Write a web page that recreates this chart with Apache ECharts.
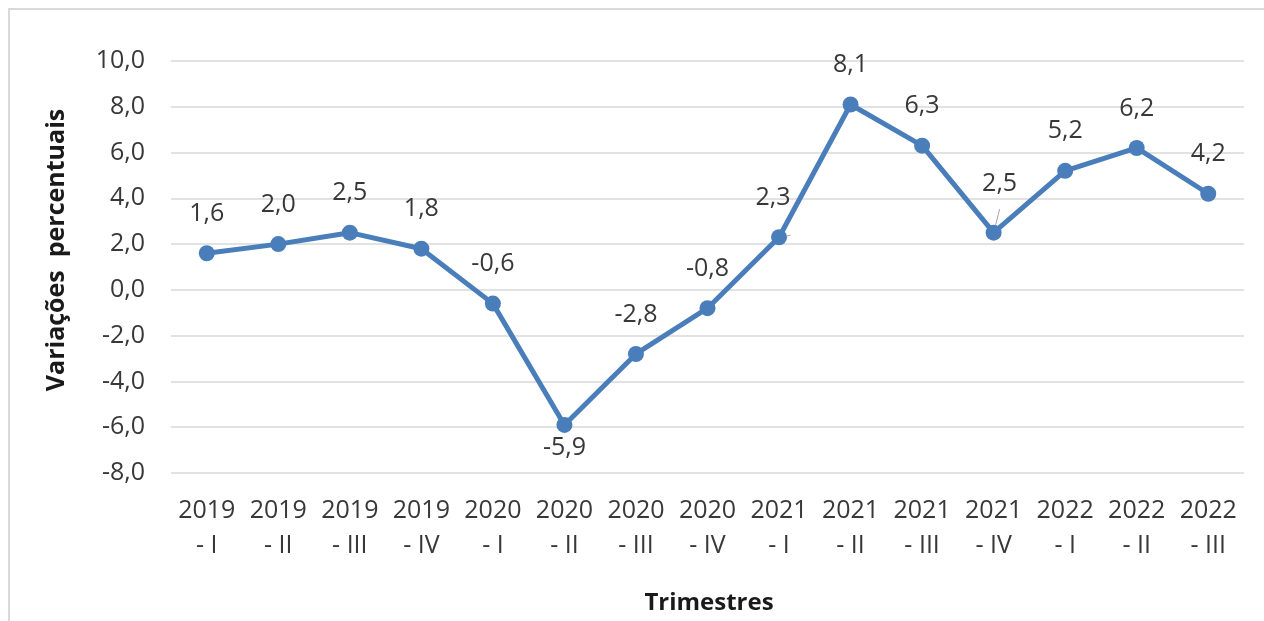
<!DOCTYPE html>
<html>
<head>
<meta charset="utf-8">
<script src="https://cdn.jsdelivr.net/npm/echarts@6/dist/echarts.min.js"></script>
<style>
  html, body { margin: 0; padding: 0; background: #fff; }
  #frame { position: absolute; left: 8px; top: 8px; width: 1300px; height: 700px;
           border-top: 2px solid #d9d9d9; border-left: 2px solid #d9d9d9; }
  #main { position: absolute; left: 0; top: 0; width: 1264px; height: 621px; }
</style>
</head>
<body>
<div id="frame"></div>
<div id="main"></div>
<script>
var categories = ['2019\n- I', '2019\n- II', '2019\n- III', '2019\n- IV',
    '2020\n- I', '2020\n- II', '2020\n- III', '2020\n- IV',
    '2021\n- I', '2021\n- II', '2021\n- III', '2021\n- IV',
    '2022\n- I', '2022\n- II', '2022\n- III'];
var values = [1.6, 2.0, 2.5, 1.8, -0.6, -5.9, -2.8, -0.8, 2.3, 8.1, 6.3, 2.5, 5.2, 6.2, 4.2];
var yTicks = { min: -8, max: 10, interval: 2 };

var FONT = '"Open Sans", sans-serif';
var TEXT = '#383838';

function fmt(v) {
    return v.toFixed(1).replace('.', ',');
}

var seriesData = [];
for (var i = 0; i < values.length; i++) {
    var item = { value: values[i] };
    if (i === 5) {
        item.label = { position: 'bottom', distance: 2 };
    } else if (i === 8) {
        item.label = { offset: [-6, 0] };
        item.labelLine = { show: true };
    } else if (i === 11) {
        item.label = { offset: [6, -9] };
        item.labelLine = { show: true };
    }
    seriesData.push(item);
}

var myChart = echarts.init(document.getElementById('main'));
var option = {
    animation: false,
    grid: { left: 171, right: 20, top: 61, bottom: 148 },
    xAxis: {
        type: 'category',
        data: categories,
        axisLine: { show: false },
        axisTick: { show: false },
        axisLabel: {
            color: TEXT, fontFamily: FONT, fontSize: 25,
            lineHeight: 35, margin: 20, interval: 0
        }
    },
    yAxis: {
        type: 'value',
        min: yTicks.min,
        max: yTicks.max,
        interval: yTicks.interval,
        axisLine: { show: false },
        axisTick: { show: false },
        splitLine: { lineStyle: { color: '#d9d9d9', width: 1.5 } },
        axisLabel: {
            color: TEXT, fontFamily: FONT, fontSize: 25, margin: 26,
            formatter: function (v) { return fmt(v); }
        }
    },
    graphic: [
        {
            type: 'text', rotation: Math.PI / 2,
            x: 57, y: 250,
            style: {
                text: 'Variações  percentuais', fill: '#1a1a1a',
                font: 'bold 25px "Open Sans", sans-serif',
                align: 'center', verticalAlign: 'middle'
            }
        },
        {
            type: 'text', x: 709, y: 603,
            style: {
                text: 'Trimestres', fill: '#1a1a1a',
                font: 'bold 24px "Open Sans", sans-serif',
                align: 'center', verticalAlign: 'middle'
            }
        }
    ],
    series: [{
        type: 'line',
        data: seriesData,
        symbol: 'circle',
        symbolSize: 16,
        lineStyle: { color: '#4a7ebb', width: 5 },
        itemStyle: { color: '#4a7ebb' },
        label: {
            show: true, position: 'top', distance: 19,
            color: TEXT, fontFamily: FONT, fontSize: 25,
            formatter: function (p) { return fmt(p.value); }
        },
        labelLine: { show: false, lineStyle: { color: '#a6a6a6', width: 1 } }
    }]
};
myChart.setOption(option);
</script>
</body>
</html>
